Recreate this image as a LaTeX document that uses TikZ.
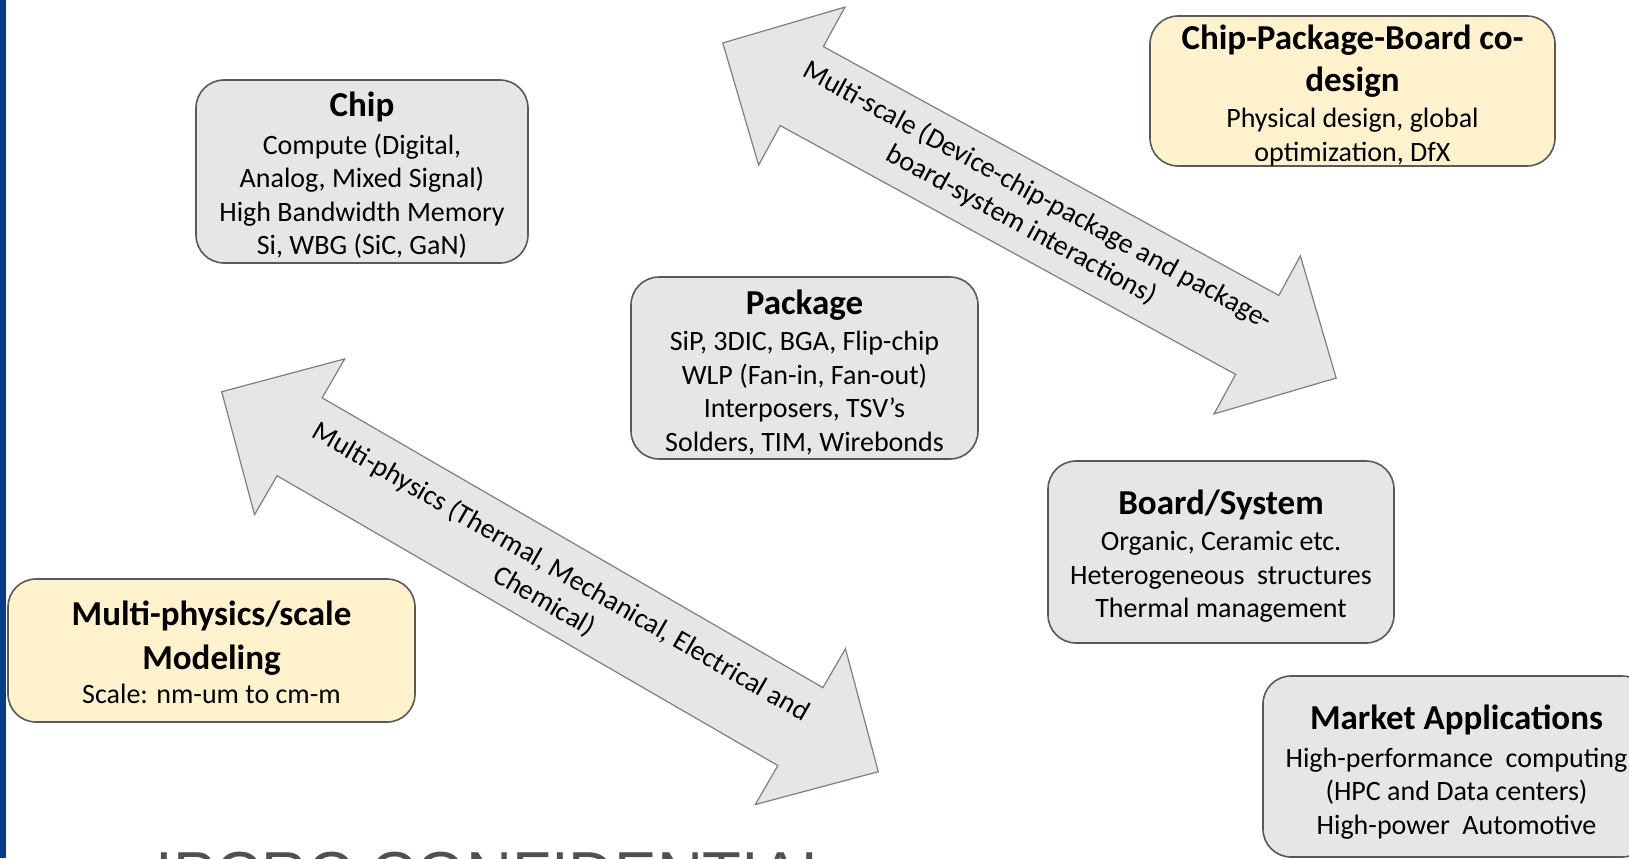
\documentclass[tikz,border=0pt]{standalone}
\usepackage{fontspec}
\setmainfont{Carlito}
\newfontfamily\confont{Liberation Sans}
\definecolor{boxgray}{HTML}{E7E6E6}
\definecolor{boxyellow}{HTML}{FFF2CC}
\definecolor{edgegray}{HTML}{595959}
\definecolor{arrowedge}{HTML}{7A7F8A}
\definecolor{barblue}{HTML}{0A3A8E}
\definecolor{confgray}{HTML}{505050}
\newcommand{\ttl}{\fontsize{17.5}{21}\selectfont\bfseries}
\newcommand{\tstrut}[1]{\rule{0pt}{#1}}
\begin{document}
\begin{tikzpicture}[x=0.5pt,y=-0.5pt,
  boxbase/.style={draw=edgegray, line width=0.8pt, rounded corners=14pt, inner sep=0pt,
    align=center, font=\fontsize{14}{16.75}\selectfont, text=black},
  graybox/.style={boxbase, fill=boxgray},
  yellowbox/.style={boxbase, fill=boxyellow},
  blockarrow/.style={draw=arrowedge, fill=boxgray, line width=0.6pt, line join=miter},
  arrowlabel/.style={align=center, font=\fontsize{14}{16.75}\selectfont, inner sep=0pt, text=black}]
\useasboundingbox (0,0) rectangle (1629,858);
\clip (0,0) rectangle (1629,858);
\fill[white] (0,0) rectangle (1629,858);
\fill[barblue] (0,0) rectangle (6,858);

% upper block arrow
\begin{scope}[shift={(1029.5,210.5)}, rotate=-28.65]
\draw[blockarrow] (-349.5,0) -- (-259.5,-90) -- (-259.5,-45) -- (259.5,-45) -- (259.5,-90)
  -- (349.5,0) -- (259.5,90) -- (259.5,45) -- (-259.5,45) -- (-259.5,90) -- cycle;
\end{scope}
\node[arrowlabel, rotate=-28.65] (scalelabel) at (1029.5,210.5)
  {Multi-scale (Device-chip-package and package-\\board-system interactions)};

% lower block arrow
\begin{scope}[shift={(550,581.7)}, rotate=-30.06]
\draw[blockarrow] (-379.3,0) -- (-289.3,-90) -- (-289.3,-45) -- (289.3,-45) -- (289.3,-90)
  -- (379.3,0) -- (289.3,90) -- (289.3,45) -- (-289.3,45) -- (-289.3,90) -- cycle;
\end{scope}
\node[arrowlabel, rotate=-30.06] (physlabel) at (552.5,586.5)
  {Multi-physics (Thermal, Mechanical, Electrical and\\Chemical)};

% boxes
\node[graybox, minimum width=166pt, minimum height=91.5pt] (chip) at (362,171.5)
  {{\ttl\tstrut{16pt}Chip}\\[2pt]Compute (Digital,\\Analog, Mixed Signal)\\High Bandwidth Memory\\Si, WBG (SiC, GaN)};

\node[yellowbox, minimum width=202.5pt, minimum height=75pt] (codesign) at (1352.5,91)
  {{\ttl\tstrut{16.7pt}Chip-Package-Board co-}\\[4.25pt]{\ttl design}\\[1.2pt]Physical design, global\\optimization, DfX};

\node[graybox, minimum width=173.5pt, minimum height=91pt] (package) at (804.5,368)
  {{\ttl\tstrut{16.5pt}Package}\\[1.5pt]SiP, 3DIC, BGA, Flip-chip\\WLP (Fan-in, Fan-out)\\Interposers, TSV’s\\Solders, TIM, Wirebonds};

\node[graybox, minimum width=173pt, minimum height=91pt] (board) at (1221,552)
  {{\ttl\tstrut{16.5pt}Board/System}\\[1.5pt]Organic, Ceramic etc.\\Heterogeneous\ \ structures\\Thermal management};

\node[yellowbox, minimum width=203.5pt, minimum height=71.5pt] (modeling) at (211.5,650.5)
  {{\ttl\tstrut{13.9pt}Multi-physics/scale}\\[5.25pt]{\ttl Modeling}\\[0.4pt]Scale: nm-um to cm-m};

\node[graybox, minimum width=193.5pt, minimum height=90.5pt] (market) at (1456.5,766.5)
  {{\ttl\tstrut{17.9pt}Market Applications}\\[1.9pt]High-performance\ \ computing\\(HPC and Data centers)\\High-power\ \ Automotive};

% cut-off footer text
\node[anchor=base west, inner sep=0pt, text=confgray,
  font=\confont\fontsize{31.8}{36}\selectfont] (conf) at (155,896) {IPCRC CONFIDENTIAL};
\end{tikzpicture}
\end{document}
